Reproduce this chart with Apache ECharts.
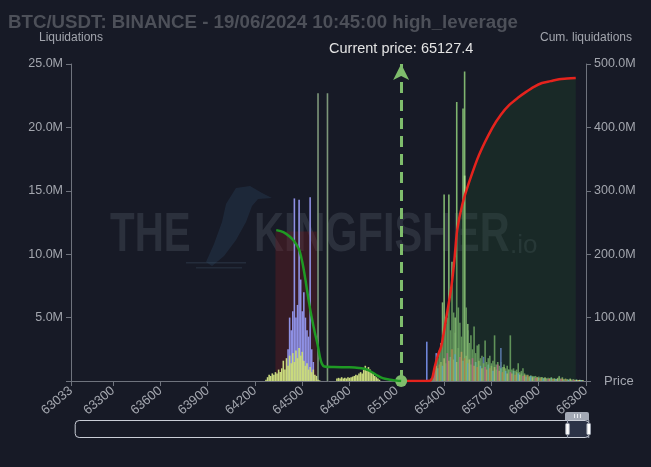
<!DOCTYPE html>
<html><head><meta charset="utf-8">
<script src="https://cdn.jsdelivr.net/npm/echarts@6/dist/echarts.min.js"></script>
<style>html,body{margin:0;padding:0;background:#171a26;}#c{width:651px;height:467px;}</style>
</head><body><div id="c"></div>
<script>
// ---- tick labels ----
const xTicks = [63033,63300,63600,63900,64200,64500,64800,65100,65400,65700,66000,66300];
const currentPrice = 65127.4;

// ---- left cluster (below current price), values in M ----
const leftPrices = [64270,64280,64290,64300,64310,64320,64330,64340,64350,64360,
  64370,64380,64390,64400,64410,64420,64430,64440,64450,64460,
  64470,64480,64490,64500,64510,64520,64530,64540,64550,64560,
  64570,64580,64590,64600,64610,64620,64630,64640,64650,64660,
  64670,64680,64690,64700,64710,64720,64730,64740,64750,64760,
  64770,64780,64790,64800,64810,64820,64830,64840,64850,64860,
  64870,64880,64890,64900,64910,64920,64930,64940,64950,64960,
  64970,64980,64990];
const leftYellow = [0.1,0.3,0.5,0.4,0.6,0.5,0.7,0.6,0.9,0.7,
  1.0,1.6,0.9,1.8,1.2,2.0,1.4,2.2,1.5,2.4,
  1.8,2.6,2.0,2.3,1.6,1.2,1.4,0.9,1.1,0.7,
  0.9,0.5,0.4,0.1,0.05,0,0,0,0,0,
  0,0,0,0,0,0.2,0.25,0.2,0.3,0.2,
  0.25,0.2,0.3,0.25,0.3,0.35,0.4,0.5,0.45,0.6,
  0.7,0.6,0.9,1.2,0.8,1.1,0.9,0.7,0.6,0.4,
  0.3,0.2,0.1];
const lavPrices = [64410,64420,64430,64440,64450,64460,64470,64480,64490,64500,64510,64520,64530,64540,64550,64560,64570];
const lavValues = [2.5,5.0,4.0,5.5,14.4,5.0,6.0,14.3,8.0,5.5,7.0,5.0,4.0,3.5,14.5,2.5,1.5];
const tallPrices = [64600,64660];
const tallValues = [22.7,22.7];

// ---- right cluster (above current price), values in M ----
const rightPrices = [65290,65300,65310,65320,65330,65340,65350,65360,65370,65380,
  65390,65400,65410,65420,65430,65440,65450,65460,65470,65480,
  65490,65500,65510,65520,65530,65540,65550,65560,65570,65580,
  65590,65600,65610,65620,65630,65640,65650,65660,65670,65680,
  65690,65700,65710,65720,65730,65740,65750,65760,65770,65780,
  65790,65800,65810,65820,65830,65840,65850,65860,65870,65880,
  65890,65900,65910,65920,65930,65940,65950,65960,65970,65980,
  65990,66000,66010,66020,66030,66040,66050,66060,66070,66080,
  66090,66100,66110,66120,66130,66140,66150,66160,66170,66180,
  66190,66200,66210,66220,66230,66240,66250,66260,66270,66280];
const rightGreen = [0,0,0,0,0.3,0.8,1.5,1.8,2.4,3.0,
  6.2,14.7,4.5,5.0,14.7,4.0,9.4,5.4,3.8,22.0,
  5.8,4.6,3.5,21.5,24.4,5.8,4.0,3.0,3.6,2.5,
  4.3,2.2,2.8,2.9,1.8,2.0,1.6,3.2,1.5,1.8,
  2.0,1.4,1.6,3.6,1.3,1.5,1.2,1.5,1.1,1.3,
  1.0,1.2,0.9,3.6,0.9,1.0,0.8,0.9,1.4,0.7,
  0.8,1.0,0.6,0.5,0.5,0.4,0.45,0.4,0.35,0.4,
  0.3,0.35,0.3,0.3,0.25,0.3,0.2,0.25,0.2,0.3,
  0.2,0.2,0.15,0.25,0.4,0.2,0.3,0.15,0.2,0.15,
  0.1,0.2,0.1,0.15,0.1,0.1,0.05,0.1,0.05,0.05];
const rightBase = [0,0,0,0.2,0.5,0.9,1.2,1.0,1.3,1.5,
  1.2,1.8,1.4,2.2,1.6,1.9,2.5,1.7,2.1,1.5,
  2.6,1.9,2.3,1.6,1.8,2.0,1.4,1.7,1.3,1.8,
  1.2,1.5,1.1,1.6,1.2,1.0,1.4,1.1,0.9,1.3,
  1.0,1.2,0.8,1.1,0.9,1.3,0.8,1.0,0.7,1.1,
  0.8,0.6,0.9,0.7,0.6,0.8,0.5,0.7,0.6,0.5,
  0.6,0.4,0.5,0.35,0.45,0.3,0.4,0.3,0.35,0.25,
  0.3,0.25,0.2,0.3,0.2,0.25,0.2,0.15,0.2,0.25,
  0.15,0.2,0.15,0.2,0.3,0.15,0.2,0.1,0.15,0.1,
  0.1,0.15,0.1,0.1,0.08,0.1,0.05,0.08,0.05,0.04];
const midPrices = [65470,65530,65550];
const midValues = [5.0,16.2,4.5];
const bluePrices = [65290,65350,65650,65760];
const blueValues = [3.1,2.2,1.9,2.6];

// ---- cumulative liquidations (M) ----
const greenCumPrices = [64335,64380,64420,64450,64480,64500,64520,64540,64560,64580,64597,64612,64625,64640,64700,64800,64860,64900,64935,64970,65010,65060,65100,65127.4];
const greenCumValues = [238,235,228,220,207,188,160,128,100,76,58,38,27,23,22,21.5,20.5,19,15,9.5,4.5,2,0.6,0];
const redCumPrices = [65127.4,65200,65290,65310,65325,65340,65360,65382,65413,65445,65464,65483,65515,65559,65622,65705,65760,65812,65870,65920,65970,66021,66075,66129,66180,66235];
const redCumValues = [0,0,0,0.3,5,22,40,55,99,147,188,238,278,314,357,399,420,435,447,456,464,470,473,476,477,478];

const basePalette = ['#e6a25e','#b7df7b','#7fd2e6','#e5e08b','#96d27c','#e57aa2','#f0c271','#8edfb0'];

const pairs = (xs, ys) => xs.map((x, i) => [x, ys[i]]);
const barCommon = { type: 'bar', barWidth: 1.6, barGap: '-100%', xAxisIndex: 0, yAxisIndex: 0, silent: true };

const chart = echarts.init(document.getElementById('c'), null, { renderer: 'canvas' });
const axisCol = '#6f737d', labCol = '#a3a6ae';
const fmtM = v => v === 0 ? '' : v.toFixed(1) + 'M';
const wmFill = 'rgba(120,126,142,0.22)';
const wmFont = 'bold 56px "Liberation Sans", Arial, sans-serif';

chart.setOption({
  backgroundColor: '#171a26',
  animation: false,
  title: {
    text: 'BTC/USDT: BINANCE - 19/06/2024 10:45:00 high_leverage',
    left: 3, top: 8,
    textStyle: { color: '#4d5059', fontSize: 18.7, fontWeight: 'bold', fontFamily: 'Liberation Sans' }
  },
  grid: { left: 71, right: 65, top: 64, bottom: 86 },
  graphic: [
    { type: 'text', x: 110, y: 208, scaleX: 0.72, z: 0, silent: true,
      style: { text: 'THE', fill: wmFill, font: wmFont } },
    { type: 'polygon', z: 0, silent: true,
      shape: { points: [[236,188],[250,186],[262,193],[272,198],[258,199],[252,206],[246,222],[236,240],[224,256],[212,266],[206,262],[214,244],[222,222],[226,204]] },
      style: { fill: 'rgba(40,62,88,0.4)' } },
    { type: 'rect', z: 0, silent: true, shape: { x: 186, y: 262, width: 60, height: 1.5 }, style: { fill: 'rgba(60,80,100,0.35)' } },
    { type: 'rect', z: 0, silent: true, shape: { x: 196, y: 267, width: 46, height: 1.5 }, style: { fill: 'rgba(60,80,100,0.3)' } },
    { type: 'text', x: 254, y: 208, scaleX: 0.74, z: 0, silent: true,
      style: { text: 'KINGFISHER', fill: wmFill, font: wmFont } },
    { type: 'text', x: 510, y: 233, z: 0, silent: true,
      style: { text: '.io', fill: wmFill, font: '26px "Liberation Sans", sans-serif' } },
    { type: 'rect', z: 10, silent: true, shape: { x: 565, y: 412, width: 24, height: 8, r: [2,2,0,0] }, style: { fill: '#a3a9b5' } },
    { type: 'rect', z: 11, silent: true, shape: { x: 574, y: 414, width: 1, height: 4 }, style: { fill: '#e8ebf0' } },
    { type: 'rect', z: 11, silent: true, shape: { x: 577, y: 414, width: 1, height: 4 }, style: { fill: '#e8ebf0' } },
    { type: 'rect', z: 11, silent: true, shape: { x: 580, y: 414, width: 1, height: 4 }, style: { fill: '#e8ebf0' } }
  ],
  xAxis: [{
    type: 'value', min: 63033, max: 66300,
    name: 'Price', nameLocation: 'end', nameGap: 18,
    nameTextStyle: { color: labCol, fontSize: 13 },
    axisLine: { lineStyle: { color: axisCol } },
    axisTick: { show: true, customValues: xTicks, lineStyle: { color: axisCol } },
    axisLabel: { customValues: xTicks, rotate: 40, color: labCol, fontSize: 13, formatter: v => String(v) },
    splitLine: { show: false }
  }, {
    type: 'value', min: 0, max: 100, show: false
  }],
  yAxis: [{
    type: 'value', min: 0, max: 25, interval: 5, position: 'left',
    name: 'Liquidations', nameGap: 20, nameTextStyle: { color: labCol, fontSize: 12 },
    axisLine: { show: true, lineStyle: { color: axisCol } },
    axisTick: { show: true, lineStyle: { color: axisCol } },
    axisLabel: { color: labCol, fontSize: 12.5, formatter: fmtM },
    splitLine: { show: false }
  }, {
    type: 'value', min: 0, max: 500, interval: 100, position: 'right',
    name: 'Cum. liquidations', nameGap: 20, nameTextStyle: { color: labCol, fontSize: 12 },
    axisLine: { show: true, lineStyle: { color: axisCol } },
    axisTick: { show: true, lineStyle: { color: axisCol } },
    axisLabel: { color: labCol, fontSize: 12.5, formatter: fmtM },
    splitLine: { show: false }
  }],
  dataZoom: [{
    type: 'slider', xAxisIndex: 1, filterMode: 'none',
    start: 95.5, end: 100,
    left: 74, right: 62, top: 420, height: 18,
    showDataShadow: false, showDetail: false, brushSelect: false,
    backgroundColor: 'rgba(0,0,0,0)', borderColor: '#c9cdd6', borderRadius: 4,
    fillerColor: 'rgba(62,72,98,0.55)',
    handleSize: '100%',
    handleStyle: { color: '#ffffff', borderColor: '#9aa0ac' },
    moveHandleSize: 0,
    dataBackground: { lineStyle: { opacity: 0 }, areaStyle: { opacity: 0 } }
  }],
  series: [
    Object.assign({}, barCommon, { name: 'tallL', data: pairs(tallPrices, tallValues), itemStyle: { color: '#7d977a' } }),
    Object.assign({}, barCommon, { name: 'lav', data: pairs(lavPrices, lavValues), itemStyle: { color: '#8e90e4' } }),
    Object.assign({}, barCommon, { name: 'yellow', data: pairs(leftPrices, leftYellow), itemStyle: { color: '#c9da7d' } }),
    Object.assign({}, barCommon, { name: 'green', data: pairs(rightPrices, rightGreen), itemStyle: { color: '#7fb46f' } }),
    Object.assign({}, barCommon, { name: 'mid', data: pairs(midPrices, midValues), itemStyle: { color: '#a9e08c' } }),
    Object.assign({}, barCommon, { name: 'blue', data: pairs(bluePrices, blueValues), itemStyle: { color: '#6f86d9' } }),
    Object.assign({}, barCommon, { name: 'base', data: pairs(rightPrices, rightBase),
      itemStyle: { color: p => basePalette[p.dataIndex % basePalette.length] } }),
    {
      name: 'cumRed', type: 'line', xAxisIndex: 0, yAxisIndex: 1, z: 4,
      data: pairs(redCumPrices, redCumValues), smooth: 0.3, showSymbol: false, silent: true,
      lineStyle: { color: '#e5231d', width: 2.5 },
      areaStyle: { color: 'rgba(32,74,44,0.45)' }
    },
    {
      name: 'cumGreen', type: 'line', xAxisIndex: 0, yAxisIndex: 1, z: 5,
      data: pairs(greenCumPrices, greenCumValues), smooth: 0.3, showSymbol: false, silent: true,
      lineStyle: { color: '#1f9a24', width: 2.5 },
      markArea: {
        silent: true,
        itemStyle: { color: 'rgba(105,30,36,0.4)' },
        data: [[{ coord: [64330, 0] }, { coord: [64592, 236] }]]
      },
      markLine: {
        silent: true,
        symbol: ['circle', 'arrow'],
        symbolSize: [12, 16],
        lineStyle: { color: '#7fbd6c', width: 3, type: [11, 7] },
        label: { show: true, position: 'end', formatter: 'Current price: ' + currentPrice, color: '#e4e4e4', fontSize: 14.5, distance: 8 },
        data: [[{ coord: [currentPrice, 0] }, { coord: [currentPrice, 500] }]]
      }
    }
  ]
});
</script>
</body></html>
